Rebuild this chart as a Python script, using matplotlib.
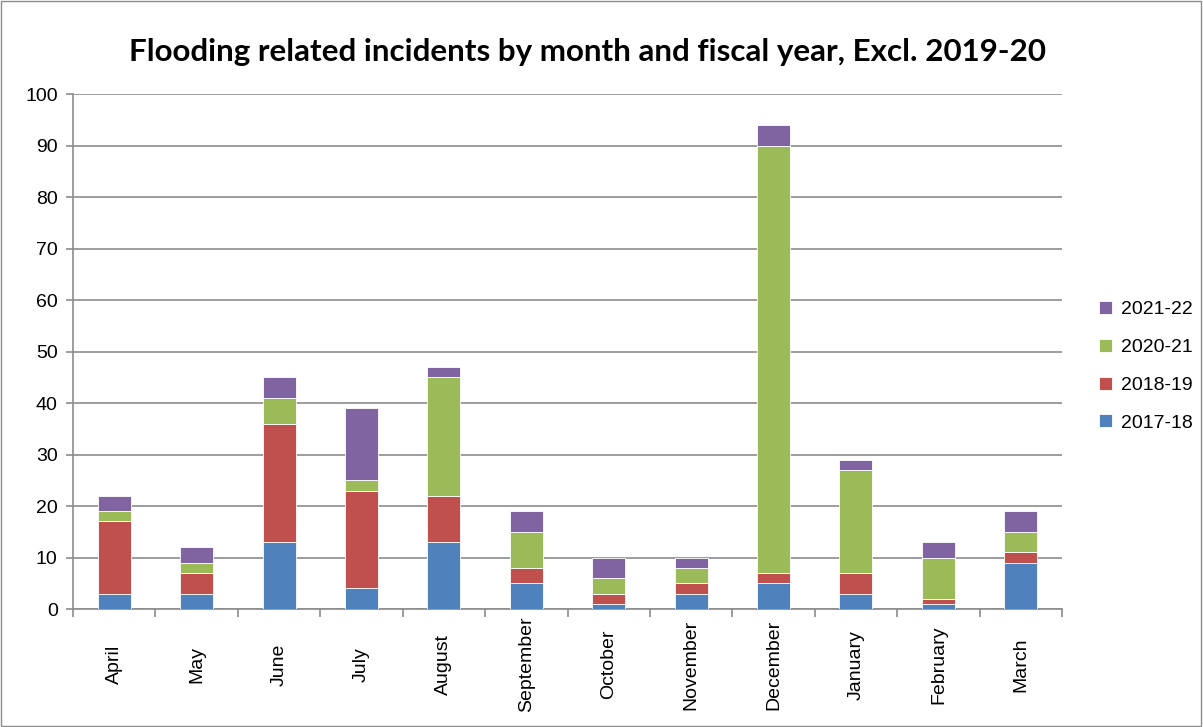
import numpy as np
import matplotlib.pyplot as plt
from matplotlib.patches import Rectangle

months = ['April', 'May', 'June', 'July', 'August', 'September', 'October',
          'November', 'December', 'January', 'February', 'March']
fy_2017_18 = [3, 3, 13, 4, 13, 5, 1, 3, 5, 3, 1, 9]
fy_2018_19 = [14, 4, 23, 19, 9, 3, 2, 2, 2, 4, 1, 2]
fy_2020_21 = [2, 2, 5, 2, 23, 7, 3, 3, 83, 20, 8, 4]
fy_2021_22 = [3, 3, 4, 14, 2, 4, 4, 2, 4, 2, 3, 4]

series = [('2017-18', fy_2017_18, '#4F81BD'),
          ('2018-19', fy_2018_19, '#C0504D'),
          ('2020-21', fy_2020_21, '#9BBB59'),
          ('2021-22', fy_2021_22, '#8064A2')]

plt.rcParams['font.family'] = ['Liberation Sans', 'DejaVu Sans']

fig = plt.figure(figsize=(12.03, 7.27), dpi=100)
ax = fig.add_axes([0.0607, 0.1623, 0.8221, 0.7084])

x = np.arange(len(months))
bottom = np.zeros(len(months))
handles = []
for name, vals, col in series:
    b = ax.bar(x, vals, width=0.4, bottom=bottom, color=col, label=name,
               edgecolor='white', linewidth=0.6, zorder=3)
    handles.append(b)
    bottom += np.array(vals)

ax.set_xlim(-0.5, len(months) - 0.5)
ax.set_ylim(0, 100)
ax.set_yticks(range(0, 101, 10))
ax.yaxis.grid(True, color='#8c8c8c', linewidth=1.2, zorder=0)
ax.tick_params(axis='y', labelsize=14, length=5, color='#8c8c8c', width=1.2, pad=6)

ax.set_xticks(x)
ax.set_xticklabels(months, rotation=90, fontsize=14, va='center')
ax.tick_params(axis='x', which='major', length=0, pad=40)
ax.set_xticks(np.arange(-0.5, len(months), 1), minor=True)
ax.tick_params(axis='x', which='minor', length=6, color='#8c8c8c', width=1.2)

for s in ['top', 'right']:
    ax.spines[s].set_visible(False)
for s in ['left', 'bottom']:
    ax.spines[s].set_color('#8c8c8c')
    ax.spines[s].set_linewidth(1.2)

fig.text(0.488, 0.929, 'Flooding related incidents by month and fiscal year, Excl. 2019-20',
         ha='center', va='center', fontsize=22.6, fontweight='bold', family=['Lato', 'DejaVu Sans'])

leg = ax.legend(handles[::-1], [s[0] for s in series][::-1],
                loc='center left', bbox_to_anchor=(1.02, 0.471), frameon=False,
                fontsize=14, handlelength=0.65, handleheight=0.65,
                labelspacing=1.05, handletextpad=0.45)

fig.patches.append(Rectangle((0.001, 0.001), 0.997, 0.997, transform=fig.transFigure,
                             fill=False, edgecolor='#8c8c8c', linewidth=1))

fig.savefig('out.png', dpi=100)
